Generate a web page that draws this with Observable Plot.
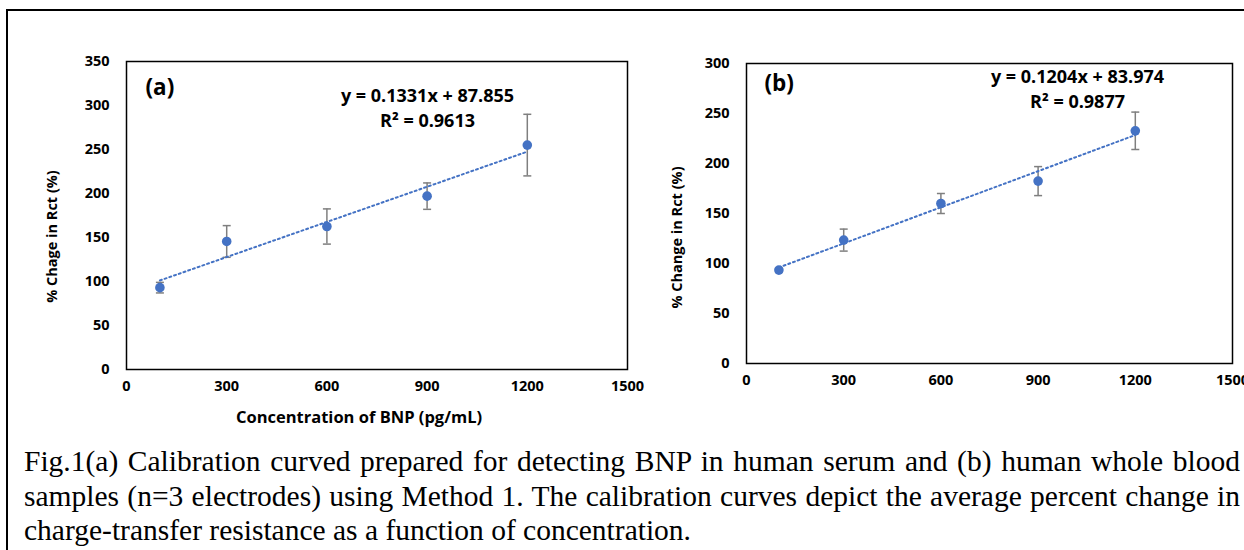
<!DOCTYPE html>
<html>
<head>
<meta charset="utf-8">
<script src="https://cdn.jsdelivr.net/npm/d3@7"></script>
<script src="https://cdn.jsdelivr.net/npm/@observablehq/plot@0.6"></script>
<style>
  html, body { margin: 0; padding: 0; width: 1244px; height: 550px; overflow: hidden; background: #fff; }
  #frameBorder { position: absolute; left: 6px; top: 9px; width: 1400px; height: 700px; border: 2px solid #000; z-index: 10; pointer-events: none; }
  #panelA { position: absolute; left: 0; top: 0; width: 640px; }
  #panelB { position: absolute; left: 640px; top: 0; width: 640px; }
  #caption { position: absolute; left: 24px; top: 444px; width: 1216px; font-family: "Liberation Serif", "Times New Roman", serif; font-size: 29.5px; line-height: 34.5px; color: #000; }
  #caption .j { text-align: justify; text-align-last: justify; white-space: nowrap; }
</style>
</head>
<body>
<div id="frameBorder"></div>
<div id="panelA"></div>
<div id="panelB"></div>
<div id="caption">
  <div class="j">Fig.1(a) Calibration curved prepared for detecting BNP in human serum and (b) human whole blood</div>
  <div class="j">samples (n=3 electrodes) using Method 1. The calibration curves depict the average percent change in</div>
  <div>charge-transfer resistance as a function of concentration.</div>
</div>
<script>
// ---- data ----
const concentrations = [100, 300, 600, 900, 1200];          // pg/mL
const serumMeans   = [93, 145.5, 162.5, 197, 255];            // panel (a)
const serumErrors  = [6, 18, 20, 15, 35];
const bloodMeans   = [93.4, 123.4, 160, 182.4, 232.7];        // panel (b)
const bloodErrors  = [2, 11, 10, 14.5, 18.7];
const serumFit = [0.1331, 87.855];   // slope, intercept
const bloodFit = [0.1204, 83.974];
const serumEquation = ["y = 0.1331x + 87.855", "R\u00B2 = 0.9613"];
const bloodEquation = ["y = 0.1204x + 83.974", "R\u00B2 = 0.9877"];
const xTicks = [0, 300, 600, 900, 1200, 1500];
const yTicksA = [0, 50, 100, 150, 200, 250, 300, 350];
const yTicksB = [0, 50, 100, 150, 200, 250, 300];
const panelLabels = ["(a)", "(b)"];
const yTitles = ["% Chage in Rct (%)", "% Change in Rct (%)"];
const xTitle = "Concentration of BNP (pg/mL)";

const BLUE = "#4472C4";
const GREY = "#7f7f7f";
const FONT = "'Open Sans', Lato, sans-serif";

const capSymbol = {
  draw(context, size) {
    const r = Math.sqrt(size / Math.PI);
    context.moveTo(-r, 0);
    context.lineTo(r, 0);
  }
};

function panel(cfg) {
  const data = concentrations.map((x, i) => ({x, y: cfg.means[i], e: cfg.errors[i]}));
  const caps = data.flatMap(d => [{x: d.x, y: d.y + d.e}, {x: d.x, y: d.y - d.e}]);
  const ext = d3.extent(concentrations);
  const fit = ext.map(x => ({x, y: cfg.fit[0] * x + cfg.fit[1]}));
  const marks = [
    Plot.axisX(xTicks, {tickSize: 0, tickPadding: 11, label: null, tickFormat: d => String(d), fontWeight: "bold", fontSize: 14.5}),
    Plot.axisY(cfg.yTicks, {tickSize: 0, tickPadding: 17, label: null, tickFormat: d => String(d), fontWeight: "bold", fontSize: 14.5}),
    Plot.ruleX(data, {x: "x", y1: d => d.y - d.e, y2: d => d.y + d.e, stroke: GREY, strokeWidth: 1.5}),
    Plot.dot(caps, {x: "x", y: "y", symbol: capSymbol, r: 4, fill: "none", stroke: GREY, strokeWidth: 1.5}),
    Plot.line(fit, {x: "x", y: "y", stroke: BLUE, strokeWidth: 2, strokeDasharray: "2,3"}),
    Plot.dot(data, {x: "x", y: "y", r: 4.8, fill: BLUE, stroke: "none"}),
    Plot.frame({stroke: "#000", strokeWidth: 1.5}),
    Plot.text([cfg.label], {frameAnchor: "top-left", dx: cfg.labelDx, dy: cfg.labelDy, textAnchor: "start", lineAnchor: "middle", fontSize: 22.5, fontWeight: "bold"}),
    Plot.text([cfg.equation[0]], {frameAnchor: "top-left", dx: cfg.eqDx, dy: cfg.eqDy, textAnchor: "middle", lineAnchor: "middle", fontSize: 18, fontWeight: "bold"}),
    Plot.text([cfg.equation[1]], {frameAnchor: "top-left", dx: cfg.eqDx, dy: cfg.eqDy + 24.5, textAnchor: "middle", lineAnchor: "middle", fontSize: 18, fontWeight: "bold"}),
    Plot.text([cfg.yTitle], {frameAnchor: "left", dx: cfg.yTitleDx, dy: cfg.yTitleDy, rotate: -90, textAnchor: "middle", lineAnchor: "middle", fontSize: 14.5, fontWeight: "bold"})
  ];
  if (cfg.xTitle) {
    marks.push(Plot.text([cfg.xTitle], {frameAnchor: "bottom", dx: -18, dy: 48, textAnchor: "middle", lineAnchor: "middle", fontSize: 16.5, fontWeight: "bold"}));
  }
  return Plot.plot({
    width: 640,
    height: cfg.height,
    marginLeft: cfg.ml, marginTop: cfg.mt, marginRight: cfg.mr, marginBottom: cfg.mb,
    x: {domain: [0, 1500]},
    y: {domain: [0, cfg.yMax]},
    style: {fontFamily: FONT, color: "#000", background: "transparent", maxWidth: "none", overflow: "visible"},
    marks
  });
}

document.getElementById("panelA").append(panel({
  means: serumMeans, errors: serumErrors, fit: serumFit, equation: serumEquation,
  yTicks: yTicksA, yMax: 350, label: panelLabels[0], yTitle: yTitles[0], xTitle,
  height: 430, ml: 126, mt: 61, mr: 13, mb: 61,
  labelDx: 19, labelDy: 26, eqDx: 301, eqDy: 35, yTitleDx: -74, yTitleDy: 21
}));
document.getElementById("panelB").append(panel({
  means: bloodMeans, errors: bloodErrors, fit: bloodFit, equation: bloodEquation,
  yTicks: yTicksB, yMax: 300, label: panelLabels[1], yTitle: yTitles[1], xTitle: null,
  height: 400, ml: 106, mt: 63, mr: 48, mb: 37,
  labelDx: 18, labelDy: 20, eqDx: 331, eqDy: 14, yTitleDx: -69, yTitleDy: 24
}));
</script>
</body>
</html>
